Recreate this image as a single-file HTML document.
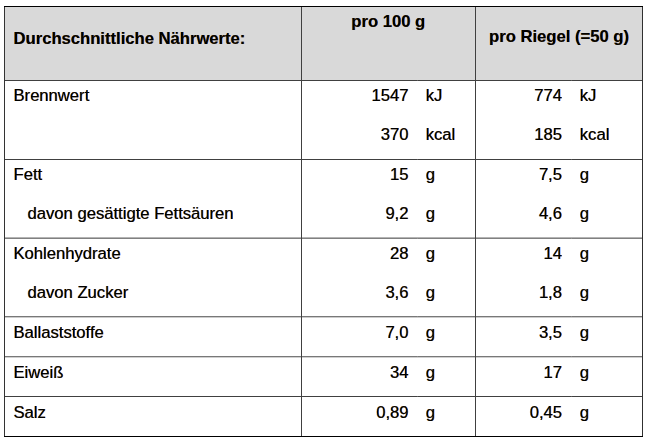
<!DOCTYPE html>
<html lang="de"><head><meta charset="utf-8"><title>Durchschnittliche Nährwerte</title>
<style>
html,body{margin:0;padding:0;background:#fff;}
body{width:647px;height:439px;position:relative;overflow:hidden;font-family:"Liberation Sans",Arial,sans-serif;font-size:16.64px;color:#000;}
.l{position:absolute;}
.t{position:absolute;white-space:nowrap;line-height:20px;height:20px;text-shadow:-0.5px 0 0 rgba(255,150,0,0.8),0.5px 0 0 rgba(0,90,255,0.8);}
.b{font-weight:bold;}
.r{text-align:right;}
#hd{position:absolute;left:5px;top:7px;width:637px;height:73px;background:#d9d9d9;}
</style></head>
<body>
<div id="hd"></div>
<div class="l" style="left:4px;top:80px;width:639px;height:1px;background:#404040"></div>
<div class="l" style="left:4px;top:159px;width:639px;height:1px;background:#404040"></div>
<div class="l" style="left:4px;top:237px;width:639px;height:1px;background:#b4b4b4"></div>
<div class="l" style="left:4px;top:238px;width:639px;height:1px;background:#808080"></div>
<div class="l" style="left:4px;top:316px;width:639px;height:1px;background:#787878"></div>
<div class="l" style="left:4px;top:317px;width:639px;height:1px;background:#cccccc"></div>
<div class="l" style="left:4px;top:356px;width:639px;height:1px;background:#787878"></div>
<div class="l" style="left:4px;top:357px;width:639px;height:1px;background:#d0d0d0"></div>
<div class="l" style="left:4px;top:396px;width:639px;height:1px;background:#404040"></div>
<div class="l" style="left:301px;top:6px;width:1px;height:431px;background:#404040"></div>
<div class="l" style="left:475px;top:6px;width:1px;height:431px;background:#404040"></div>
<div class="l" style="left:417px;top:80px;width:1px;height:1px;background:#5c5c5c"></div>
<div class="l" style="left:571px;top:80px;width:1px;height:1px;background:#5c5c5c"></div>
<div class="l" style="left:417px;top:159px;width:1px;height:1px;background:#5c5c5c"></div>
<div class="l" style="left:571px;top:159px;width:1px;height:1px;background:#5c5c5c"></div>
<div class="l" style="left:417px;top:238px;width:1px;height:1px;background:#909090"></div>
<div class="l" style="left:571px;top:238px;width:1px;height:1px;background:#909090"></div>
<div class="l" style="left:417px;top:316px;width:1px;height:1px;background:#8a8a8a"></div>
<div class="l" style="left:571px;top:316px;width:1px;height:1px;background:#8a8a8a"></div>
<div class="l" style="left:417px;top:356px;width:1px;height:1px;background:#8a8a8a"></div>
<div class="l" style="left:571px;top:356px;width:1px;height:1px;background:#8a8a8a"></div>
<div class="l" style="left:417px;top:396px;width:1px;height:1px;background:#5c5c5c"></div>
<div class="l" style="left:571px;top:396px;width:1px;height:1px;background:#5c5c5c"></div>
<div class="l" style="left:4px;top:6px;width:1px;height:431px;background:#333"></div>
<div class="l" style="left:642px;top:6px;width:1px;height:431px;background:#303030"></div>
<div class="l" style="left:4px;top:6px;width:639px;height:1px;background:#000"></div>
<div class="l" style="left:4px;top:436px;width:639px;height:1px;background:#000"></div>
<div class="t b" style="left:13.5px;top:29px">Durchschnittliche Nährwerte:</div>
<div class="t b" style="left:351.3px;top:12px">pro 100 g</div>
<div class="t b" style="left:489px;top:27px">pro Riegel (=50 g)</div>
<div class="t " style="left:13.5px;top:86px">Brennwert</div>
<div class="t " style="left:13.5px;top:165px">Fett</div>
<div class="t " style="left:27.5px;top:204px">davon gesättigte Fettsäuren</div>
<div class="t " style="left:13.5px;top:244px">Kohlenhydrate</div>
<div class="t " style="left:27.5px;top:283px">davon Zucker</div>
<div class="t " style="left:13.5px;top:323px">Ballaststoffe</div>
<div class="t " style="left:13.5px;top:363px">Eiweiß</div>
<div class="t " style="left:13.5px;top:403px">Salz</div>
<div class="t r " style="left:308.5px;width:100px;top:86px">1547</div>
<div class="t " style="left:425.7px;top:86px">kJ</div>
<div class="t r " style="left:462px;width:100px;top:86px">774</div>
<div class="t " style="left:579.8px;top:86px">kJ</div>
<div class="t r " style="left:308.5px;width:100px;top:125px">370</div>
<div class="t " style="left:425.7px;top:125px">kcal</div>
<div class="t r " style="left:462px;width:100px;top:125px">185</div>
<div class="t " style="left:579.8px;top:125px">kcal</div>
<div class="t r " style="left:308.5px;width:100px;top:165px">15</div>
<div class="t " style="left:425.7px;top:165px">g</div>
<div class="t r " style="left:462px;width:100px;top:165px">7,5</div>
<div class="t " style="left:579.8px;top:165px">g</div>
<div class="t r " style="left:308.5px;width:100px;top:204px">9,2</div>
<div class="t " style="left:425.7px;top:204px">g</div>
<div class="t r " style="left:462px;width:100px;top:204px">4,6</div>
<div class="t " style="left:579.8px;top:204px">g</div>
<div class="t r " style="left:308.5px;width:100px;top:244px">28</div>
<div class="t " style="left:425.7px;top:244px">g</div>
<div class="t r " style="left:462px;width:100px;top:244px">14</div>
<div class="t " style="left:579.8px;top:244px">g</div>
<div class="t r " style="left:308.5px;width:100px;top:283px">3,6</div>
<div class="t " style="left:425.7px;top:283px">g</div>
<div class="t r " style="left:462px;width:100px;top:283px">1,8</div>
<div class="t " style="left:579.8px;top:283px">g</div>
<div class="t r " style="left:308.5px;width:100px;top:323px">7,0</div>
<div class="t " style="left:425.7px;top:323px">g</div>
<div class="t r " style="left:462px;width:100px;top:323px">3,5</div>
<div class="t " style="left:579.8px;top:323px">g</div>
<div class="t r " style="left:308.5px;width:100px;top:363px">34</div>
<div class="t " style="left:425.7px;top:363px">g</div>
<div class="t r " style="left:462px;width:100px;top:363px">17</div>
<div class="t " style="left:579.8px;top:363px">g</div>
<div class="t r " style="left:308.5px;width:100px;top:403px">0,89</div>
<div class="t " style="left:425.7px;top:403px">g</div>
<div class="t r " style="left:462px;width:100px;top:403px">0,45</div>
<div class="t " style="left:579.8px;top:403px">g</div>
</body></html>
